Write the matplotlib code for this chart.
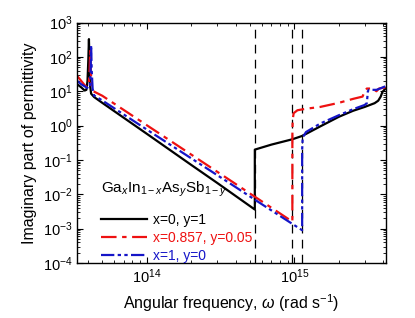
import matplotlib
matplotlib.use('Agg')
import matplotlib.pyplot as plt
import numpy as np

plt.rcParams['font.family'] = ['Liberation Sans', 'DejaVu Sans']
plt.rcParams['mathtext.fontset'] = 'custom'
plt.rcParams['mathtext.rm'] = 'Liberation Sans'
plt.rcParams['mathtext.it'] = 'Liberation Sans:italic'
plt.rcParams['mathtext.bf'] = 'Liberation Sans:bold'

# Ga_x In_1-x As_y Sb_1-y (omega in rad/s)
w_inas = [3.38e13, 3.6e13, 3.8e13, 3.9e13, 3.97e13, 4.02e13, 4.06e13, 4.1e13, 4.14e13, 4.2e13,
          4.4e13, 5e13, 1e14, 2e14, 3e14, 5.4e14, 5.4e14, 7e14, 9.7e14, 1.13e15, 1.5e15,
          2e15, 2.5e15, 3e15, 3.5e15, 3.7e15, 3.85e15, 3.95e15, 4.15e15]
e_inas = [16, 13, 10.5, 11, 20, 80, 330, 60, 14, 8.5,
          6.8, 4.6, 0.58, 0.072, 0.0215, 0.0036, 0.2, 0.28, 0.4, 0.5, 0.95,
          1.8, 2.7, 3.5, 4.5, 5.3, 7, 9.5, 12]

w_mid = [3.38e13, 3.6e13, 3.8e13, 3.95e13, 4.05e13, 4.1e13, 4.14e13, 4.18e13, 4.24e13, 4.35e13,
         5e13, 1e14, 2e14, 3.65e14, 6e14, 9.7e14, 9.7e14, 9.75e14, 9.9e14, 1.05e15, 1.2e15,
         1.5e15, 2e15, 2.5e15, 2.9e15, 3.0e15, 3.1e15, 3.4e15, 3.6e15, 3.75e15, 4.15e15]
e_mid = [28, 20, 15, 13, 15, 40, 150, 40, 13, 10,
         7.4, 1.03, 0.144, 0.026, 0.0063, 0.0016, 0.5, 1.5, 2.3, 2.8, 3.1,
         3.5, 4.6, 6, 7, 10, 12, 12, 10, 12, 13]

w_gasb = [3.38e13, 3.6e13, 3.9e13, 4.05e13, 4.12e13, 4.17e13, 4.2e13, 4.24e13, 4.3e13, 4.4e13,
          5e13, 1e14, 2e14, 3.65e14, 6e14, 1.13e15, 1.13e15, 1.14e15, 1.2e15, 1.5e15,
          2e15, 2.5e15, 3e15, 3.1e15, 3.15e15, 3.2e15, 3.6e15, 3.8e15, 4.15e15]
e_gasb = [20, 16, 13, 12, 14, 40, 220, 40, 12, 7.5,
          5.4, 0.77, 0.112, 0.021, 0.0052, 0.0009, 0.2, 0.45, 0.65, 1.15,
          2.0, 3.0, 4.0, 4.5, 10, 11, 11, 12, 14]

# band edges (dashed)
edges = [5.45e14, 9.7e14, 1.13e15]

labels = ['x=0, y=1', 'x=0.857, y=0.05', 'x=1, y=0']
colors = ['black', '#ee1111', '#1515c8']

fig = plt.figure(figsize=(4.15, 3.18), dpi=100)
ax = fig.add_axes([0.186, 0.173, 0.743, 0.756])

for w in edges:
    ax.axvline(w, color='black', lw=0.9, ls=(0, (7, 5)))

ax.plot(w_inas, e_inas, color=colors[0], lw=1.6, label=labels[0])
ax.plot(w_mid, e_mid, color=colors[1], lw=1.6, ls=(0, (7, 2.5, 2, 2.5)), label=labels[1])
ax.plot(w_gasb, e_gasb, color=colors[2], lw=1.6, ls=(0, (6, 1.5, 1.5, 1.5, 1.5, 1.5)), label=labels[2])

ax.set_xscale('log')
ax.set_yscale('log')
ax.set_xlim(3.38e13, 4.15e15)
ax.set_ylim(1e-4, 1e3)
ax.set_yticks([10.0 ** k for k in range(-4, 4)])
ax.yaxis.set_minor_locator(matplotlib.ticker.LogLocator(base=10, subs=np.arange(2, 10), numticks=20))
ax.yaxis.set_minor_formatter(matplotlib.ticker.NullFormatter())
ax.xaxis.set_minor_formatter(matplotlib.ticker.NullFormatter())

ax.tick_params(which='both', direction='in', top=True, right=True, labelsize=10.5)
ax.tick_params(which='major', length=4, width=0.8)
ax.tick_params(which='minor', length=2, width=0.6)
for s in ax.spines.values():
    s.set_linewidth(1.0)

ax.set_xlabel(r'Angular frequency, $\omega$ (rad s$^{-1}$)', fontsize=11.5)
ax.set_ylabel('Imaginary part of permittivity', fontsize=11.5)

leg = ax.legend(loc='upper left', bbox_to_anchor=(0.06, 0.37), frameon=False,
                title=r'Ga$_x$In$_{1-x}$As$_y$Sb$_{1-y}$', fontsize=10,
                title_fontsize=11, handlelength=3.3, handletextpad=0.4,
                labelspacing=0.3, borderaxespad=0)
leg._legend_box.align = 'left'
leg._legend_box.sep = 10
for t, c in zip(leg.get_texts(), colors):
    t.set_color(c)

plt.savefig('out.png', dpi=100)
